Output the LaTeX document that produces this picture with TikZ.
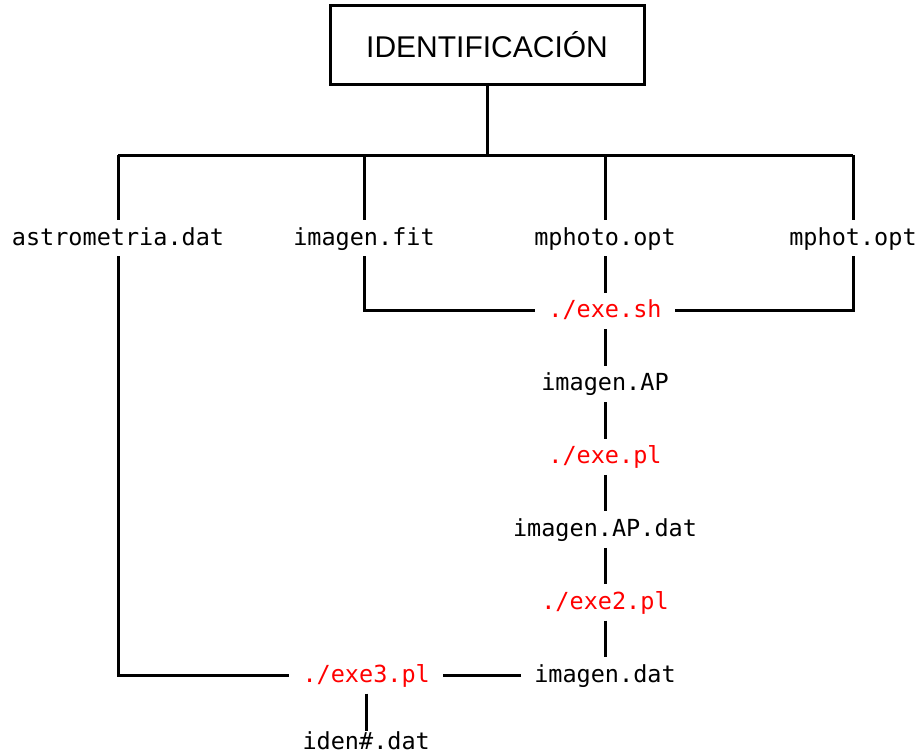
\documentclass[tikz,border=0pt]{standalone}
\usepackage{fontspec}
\setmainfont{Liberation Sans}
\setmonofont{DejaVu Sans Mono}
\usepackage{tikz}
\usetikzlibrary{positioning}
\definecolor{exered}{HTML}{FF0000}

\begin{document}
\begin{tikzpicture}[x=1pt,y=-1pt,
  title/.style={draw,line width=3pt,minimum width=314pt,minimum height=79pt,
    font=\fontsize{30}{34}\selectfont},
  file/.style={font=\ttfamily\fontsize{23.5}{27}\selectfont,inner xsep=13pt,
    inner ysep=7pt,text height=18pt,text depth=4pt},
  script/.style={file,text=exered},
  link/.style={line width=3pt},node distance=36.5pt]
 \useasboundingbox (0,0) rectangle (919,755);
 \node[title] (iden) at (487,45) {IDENTIFICACIÓN};
 \coordinate (bar) at (488,155);
 \node[file] (astro) at (118,238) {astrometria.dat};
 \node[file] (fit) at (364,238) {imagen.fit};
 \node[file] (opt) at (605,238) {mphoto.opt};
 \node[file] (phot) at (853,238) {mphot.opt};
 \node[script,below=of opt] (sh) {./exe.sh};
 \node[file,below=of sh] (ap) {imagen.AP};
 \node[script,below=of ap] (pl) {./exe.pl};
 \node[file,below=of pl] (apdat) {imagen.AP.dat};
 \node[script,below=of apdat] (pltwo) {./exe2.pl};
 \node[file,below=of pltwo] (dat) {imagen.dat};
 \node[script,left=78pt of dat] (plthree) {./exe3.pl};
 \node[file,inner ysep=1pt,below=37pt of plthree] (out) {iden\#.dat};
 % tree from the title
 \draw[link] (iden.south) -- (iden.south |- bar);
 \draw[link] (astro.north |- bar) -- (phot.north |- bar);
 \foreach \n in {astro,fit,opt,phot}
   \draw[link] (\n.north |- bar) -- (\n.north);
 % inputs of exe.sh
 \draw[link] (fit.south) |- (sh.west);
 \draw[link] (phot.south) |- (sh.east);
 \draw[link] (opt) -- (sh);
 % chain
 \draw[link] (sh) -- (ap);
 \draw[link] (ap) -- (pl);
 \draw[link] (pl) -- (apdat);
 \draw[link] (apdat) -- (pltwo);
 \draw[link] (pltwo) -- (dat);
 \draw[link] (dat) -- (plthree);
 \draw[link] (astro.south) |- (plthree.west);
 \draw[link] (plthree) -- (out);
\end{tikzpicture}
\end{document}
